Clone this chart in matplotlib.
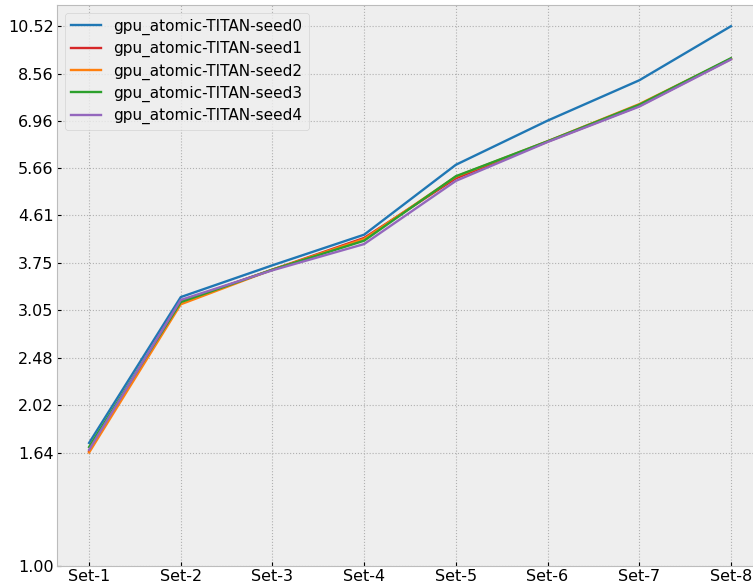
import numpy as np
import matplotlib
matplotlib.use("Agg")
import matplotlib.pyplot as plt

# data
sets = ["Set-1", "Set-2", "Set-3", "Set-4", "Set-5", "Set-6", "Set-7", "Set-8"]
seed0 = [1.71, 3.23, 3.71, 4.24, 5.75, 6.97, 8.31, 10.52]
seed1 = [1.65, 3.17, 3.64, 4.18, 5.42, 6.36, 7.43, 9.12]
seed2 = [1.64, 3.13, 3.64, 4.16, 5.46, 6.37, 7.49, 9.13]
seed3 = [1.68, 3.16, 3.64, 4.13, 5.47, 6.37, 7.47, 9.15]
seed4 = [1.66, 3.19, 3.63, 4.07, 5.36, 6.35, 7.41, 9.10]
ytick_labels = ["1.00", "1.64", "2.02", "2.48", "3.05", "3.75", "4.61",
                "5.66", "6.96", "8.56", "10.52"]

series = {
    "gpu_atomic-TITAN-seed0": seed0,
    "gpu_atomic-TITAN-seed1": seed1,
    "gpu_atomic-TITAN-seed2": seed2,
    "gpu_atomic-TITAN-seed3": seed3,
    "gpu_atomic-TITAN-seed4": seed4,
}
colors = ["#1f77b4", "#d62728", "#ff7f0e", "#2ca02c", "#9467bd"]

plt.style.use("bmh")
fig = plt.figure(figsize=(7.53, 5.84), dpi=100)
ax = fig.add_axes([57 / 753, 18 / 584, 706 / 753, 561 / 584])

x = np.arange(len(sets))
for (name, vals), c in zip(series.items(), colors):
    ax.plot(x, vals, color=c, linewidth=1.7, label=name)

ax.set_yscale("log")
ticks = [float(t) for t in ytick_labels]
ax.set_yticks(ticks)
ax.set_yticklabels(ytick_labels)
ax.minorticks_off()
ax.set_ylim(1.0, 11.54)
ax.set_xticks(x)
ax.set_xticklabels(sets)
ax.set_xlim(-0.35, 7.35)

ax.tick_params(labelsize=11.5, length=3, pad=2.5)
ax.grid(True, linestyle=":", color="#b0b0b0", linewidth=0.8)
ax.legend(loc="upper left", fontsize=11, labelspacing=0.4)

fig.savefig("out.png", dpi=100)
